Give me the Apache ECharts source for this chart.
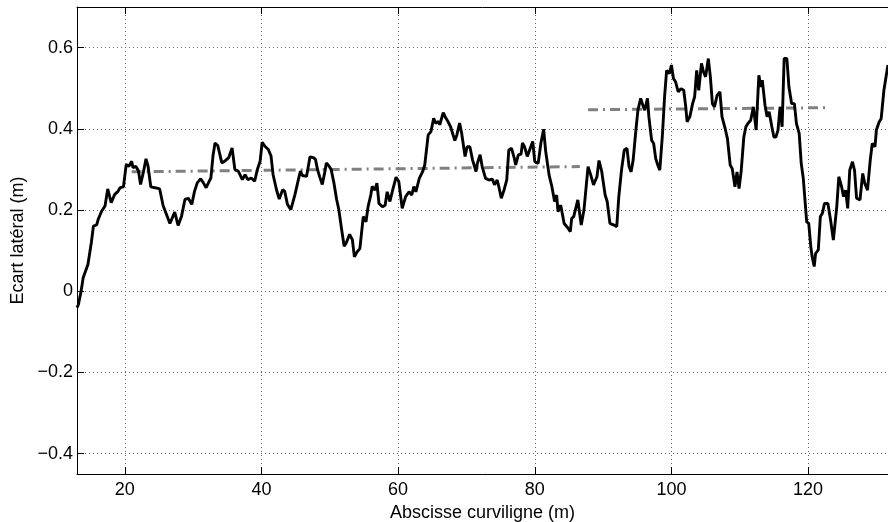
<!DOCTYPE html>
<html>
<head>
<meta charset="utf-8">
<script src="https://cdn.jsdelivr.net/npm/echarts@6/dist/echarts.min.js"></script>
<style>html,body{margin:0;padding:0;background:#fff}#c{width:888px;height:522px}</style>
</head>
<body>
<div id="c"></div>
<script>
const xTicks = [20, 40, 60, 80, 100, 120];
const yTicks = [-0.4, -0.2, 0, 0.2, 0.4, 0.6];

const sX = [13.0,13.2,13.6,13.9,14.6,15.1,15.4,15.9,16.1,16.6,17.1,17.5,18.0,18.5,19.0,19.3,19.8,20.2,20.6,21.0,21.2,21.6,22.0,22.3,22.7,23.1,23.4,23.8,24.4,25.1,25.6,26.1,26.6,27.3,27.8,28.3,28.8,29.3,29.8,30.2,30.6,31.1,31.5,31.9,32.6,32.9,33.2,33.6,34.2,34.6,35.2,35.7,36.1,36.6,37.2,37.6,38.0,38.5,39.0,39.4,39.8,40.1,40.5,41.0,41.4,41.7,42.2,42.6,43.1,43.4,43.8,44.3,44.9,45.4,45.7,46.0,46.6,47.1,47.6,47.9,48.2,48.5,48.9,49.3,49.5,49.9,50.2,50.6,51.0,51.3,51.7,52.1,52.4,52.9,53.3,53.6,54.0,54.4,54.9,55.3,55.6,56.0,56.2,56.6,56.9,57.2,57.7,58.1,58.4,58.8,59.2,59.7,60.1,60.6,61.1,61.6,62.0,62.3,62.6,63.1,63.6,63.9,64.4,64.8,65.2,65.5,65.9,66.1,66.6,67.0,67.3,67.7,68.3,68.6,69.0,69.3,69.8,70.1,70.5,70.9,71.4,71.6,72.0,72.3,72.8,73.3,73.8,74.1,74.5,74.8,75.1,75.5,75.9,76.2,76.6,77.0,77.2,77.6,78.0,78.2,78.5,78.9,79.7,80.0,80.5,80.9,81.3,81.6,82.1,82.5,82.9,83.2,83.4,83.8,84.3,84.8,85.2,85.4,85.7,86.3,86.8,87.2,87.8,88.2,88.6,89.1,89.4,89.8,90.3,90.6,91.0,91.6,92.0,92.3,92.7,93.1,93.5,93.8,94.1,94.4,94.8,95.1,95.5,95.9,96.1,96.5,96.7,97.1,97.4,97.7,98.0,98.3,98.7,99.0,99.3,99.7,100.0,100.3,100.6,101.0,101.4,101.8,102.1,102.3,102.7,103.1,103.4,103.7,104.0,104.4,104.7,105.0,105.4,105.7,106.0,106.3,106.7,107.1,107.4,107.8,108.2,108.6,108.9,109.3,109.6,109.9,110.2,110.6,110.9,111.2,111.6,112.0,112.2,112.4,112.8,113.1,113.3,113.7,114.0,114.3,114.7,115.0,115.3,115.6,115.9,116.2,116.5,116.9,117.2,117.6,118.0,118.3,118.7,119.0,119.3,119.5,119.8,120.1,120.4,120.6,120.9,121.1,121.5,121.8,122.1,122.4,122.9,123.3,123.7,124.2,124.5,124.9,125.2,125.5,125.8,126.1,126.5,126.8,127.1,127.6,128.0,128.3,128.7,129.1,129.4,129.8,130.0,130.4,130.7,131.1,131.6,131.7];
const sY = [-0.04,-0.033,0.0,0.033,0.066,0.12,0.16,0.164,0.177,0.197,0.21,0.252,0.218,0.238,0.246,0.255,0.257,0.312,0.308,0.32,0.304,0.308,0.296,0.263,0.292,0.326,0.308,0.257,0.255,0.252,0.211,0.189,0.167,0.195,0.162,0.185,0.226,0.229,0.214,0.246,0.267,0.277,0.267,0.255,0.279,0.333,0.365,0.359,0.316,0.32,0.329,0.353,0.30,0.296,0.275,0.287,0.275,0.279,0.271,0.30,0.32,0.367,0.357,0.349,0.333,0.287,0.25,0.227,0.25,0.246,0.214,0.201,0.238,0.275,0.296,0.285,0.283,0.331,0.329,0.325,0.30,0.283,0.263,0.296,0.316,0.308,0.30,0.267,0.226,0.203,0.156,0.111,0.119,0.14,0.127,0.085,0.097,0.105,0.184,0.171,0.208,0.237,0.258,0.249,0.266,0.216,0.208,0.212,0.245,0.221,0.249,0.281,0.27,0.204,0.233,0.245,0.237,0.258,0.245,0.278,0.295,0.311,0.385,0.393,0.426,0.414,0.418,0.41,0.44,0.426,0.418,0.404,0.371,0.385,0.414,0.389,0.332,0.356,0.356,0.323,0.295,0.315,0.336,0.307,0.278,0.274,0.276,0.262,0.274,0.253,0.229,0.249,0.274,0.348,0.352,0.328,0.311,0.336,0.338,0.365,0.356,0.332,0.369,0.319,0.315,0.365,0.399,0.344,0.286,0.258,0.221,0.237,0.196,0.212,0.167,0.157,0.147,0.179,0.184,0.225,0.163,0.2,0.307,0.286,0.262,0.282,0.322,0.295,0.237,0.221,0.167,0.163,0.159,0.233,0.299,0.348,0.352,0.307,0.294,0.323,0.397,0.446,0.475,0.454,0.446,0.475,0.43,0.372,0.364,0.327,0.311,0.298,0.389,0.479,0.544,0.536,0.557,0.524,0.516,0.491,0.499,0.495,0.454,0.417,0.43,0.462,0.479,0.544,0.495,0.561,0.54,0.528,0.573,0.528,0.462,0.454,0.483,0.491,0.43,0.405,0.376,0.311,0.302,0.257,0.294,0.253,0.294,0.38,0.405,0.413,0.421,0.454,0.458,0.397,0.532,0.503,0.52,0.458,0.43,0.442,0.405,0.38,0.38,0.397,0.454,0.405,0.573,0.573,0.503,0.462,0.462,0.413,0.389,0.315,0.278,0.274,0.171,0.167,0.11,0.085,0.061,0.093,0.102,0.184,0.192,0.216,0.216,0.175,0.126,0.208,0.282,0.258,0.233,0.249,0.204,0.298,0.319,0.298,0.229,0.225,0.29,0.266,0.249,0.323,0.364,0.356,0.397,0.417,0.425,0.495,0.548,0.557];

const fit1X = [21.0, 86.6];
const fit1Y = [0.294, 0.307];
const fit2X = [87.8, 122.7];
const fit2Y = [0.447, 0.452];

const zip = (a, b) => a.map((v, i) => [v, b[i]]);
const fmt = v => (v < 0 ? '\u2212' + (-v) : String(v));
const FONT = 'Liberation Sans';

const chart = echarts.init(document.getElementById('c'), null, {renderer: 'canvas'});
const tickStyle = {show: true, inside: true, length: 7, lineStyle: {color: '#000', width: 1}};
chart.setOption({
  animation: false,
  backgroundColor: '#fff',
  grid: {left: 77, right: 0, top: 7, bottom: 48, outerBoundsMode: 'none', containLabel: false},
  xAxis: [{
    type: 'value', min: 13, max: 131.7, position: 'bottom',
    axisLine: {show: true, onZero: false, lineStyle: {color: '#000', width: 1}},
    axisTick: Object.assign({customValues: xTicks}, tickStyle),
    axisLabel: {customValues: xTicks, color: '#000', fontFamily: FONT, fontSize: 18, margin: 7, formatter: fmt},
    splitLine: {show: true, lineStyle: {color: '#666', width: 1, type: [1, 3]}},
    name: 'Abscisse curviligne (m)', nameLocation: 'middle', nameGap: 27,
    nameTextStyle: {color: '#000', fontFamily: FONT, fontSize: 18}
  }, {
    type: 'value', min: 13, max: 131.7, position: 'top',
    axisLine: {show: true, onZero: false, lineStyle: {color: '#000', width: 1}},
    axisTick: Object.assign({customValues: xTicks}, tickStyle),
    axisLabel: {show: false}, splitLine: {show: false}
  }],
  yAxis: [{
    type: 'value', min: -0.45, max: 0.7, position: 'left',
    axisLine: {show: true, onZero: false, lineStyle: {color: '#000', width: 1}},
    axisTick: Object.assign({customValues: yTicks}, tickStyle),
    axisLabel: {customValues: yTicks, color: '#000', fontFamily: FONT, fontSize: 18, margin: 4, formatter: fmt},
    splitLine: {show: true, lineStyle: {color: '#666', width: 1, type: [1, 3]}},
    name: 'Ecart latéral (m)', nameLocation: 'middle', nameGap: 47,
    nameTextStyle: {color: '#000', fontFamily: FONT, fontSize: 18}
  }],
  series: [{
    type: 'line', data: zip(sX, sY), showSymbol: false, symbol: 'none',
    lineStyle: {color: '#000', width: 2.9}, z: 5
  }, {
    type: 'line', data: zip(fit1X, fit1Y), showSymbol: false, symbol: 'none',
    lineStyle: {color: '#808080', width: 3, type: [10, 5, 2, 5]}, z: 4
  }, {
    type: 'line', data: zip(fit2X, fit2Y), showSymbol: false, symbol: 'none',
    lineStyle: {color: '#808080', width: 3, type: [10, 5, 2, 5]}, z: 4
  }]
});
</script>
</body>
</html>
